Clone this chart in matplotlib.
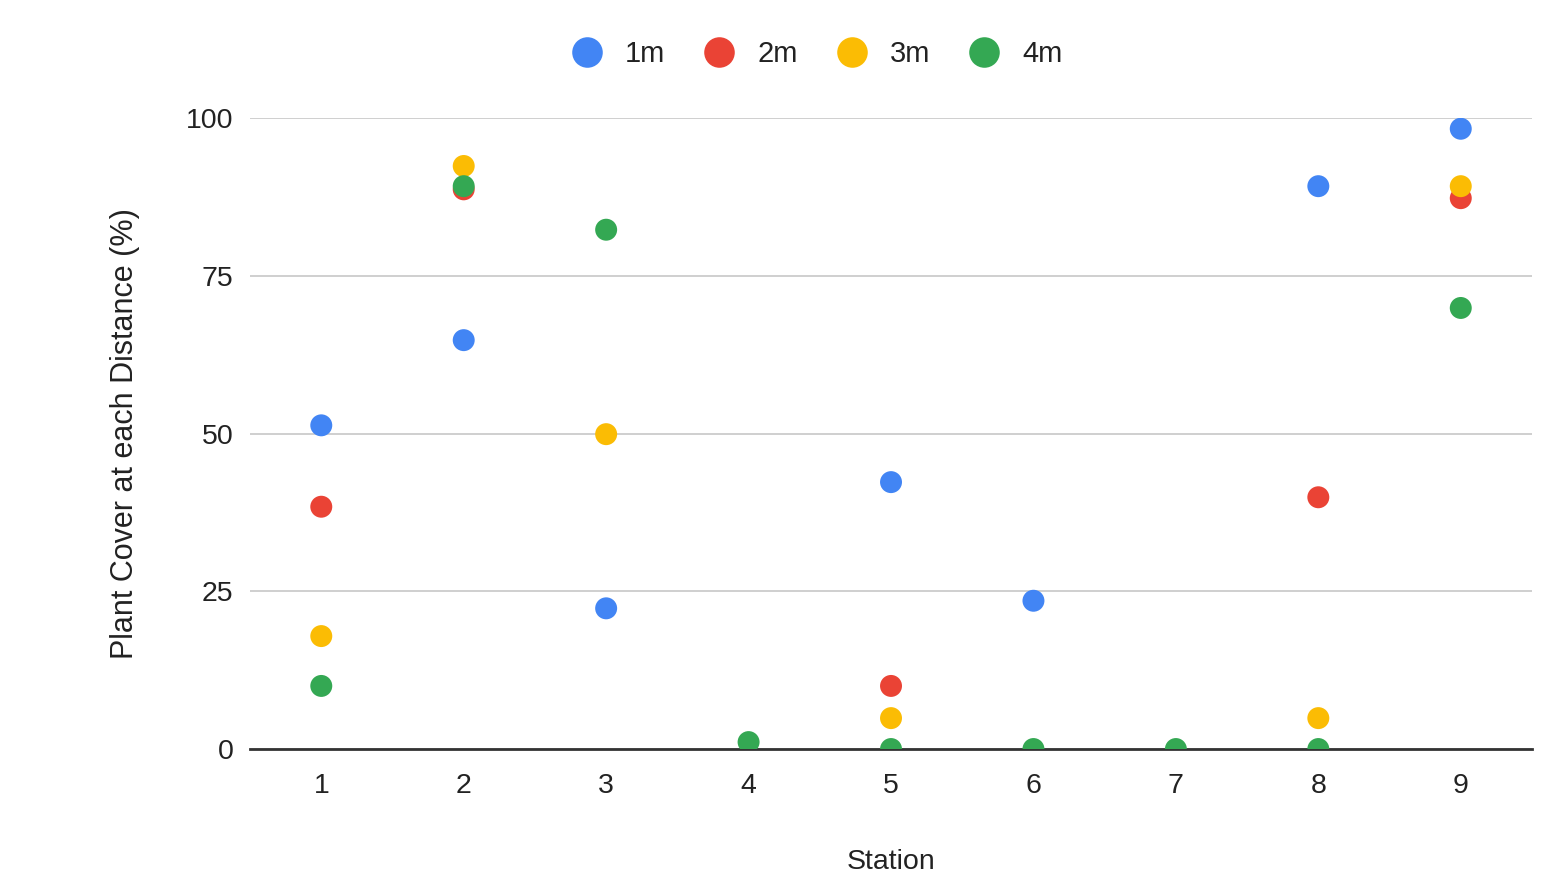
import numpy as np
import matplotlib.pyplot as plt
from matplotlib.lines import Line2D

plt.rcParams['font.family'] = ['Liberation Sans', 'DejaVu Sans']

# data (nan = no point shown)
stations = [1, 2, 3, 4, 5, 6, 7, 8, 9]
series_names = ["1m", "2m", "3m", "4m"]
cover_1m = [51.3, 64.8, 22.3, np.nan, 42.3, 23.5, np.nan, 89.2, 98.3]
cover_2m = [38.4, 88.7, np.nan, np.nan, 10.0, np.nan, np.nan, 39.9, 87.3]
cover_3m = [17.9, 92.4, 49.9, np.nan, 4.9, np.nan, np.nan, 4.9, 89.2]
cover_4m = [10.0, 89.2, 82.3, 1.1, 0.0, 0.0, 0.0, 0.0, 69.9]
colors = ["#4285F4", "#EA4335", "#FBBC04", "#34A853"]

fig = plt.figure(figsize=(15.58, 8.73), dpi=100)
ax = fig.add_axes([0.1605, 0.142, 0.8228, 0.7228])

for vals, col in zip([cover_1m, cover_2m, cover_3m, cover_4m], colors):
    ax.scatter(stations, vals, s=250, color=col, edgecolors="none", zorder=3)

ax.set_xlim(0.5, 9.5)
ax.set_ylim(0, 100)
ax.set_xticks(stations)
ax.set_yticks([0, 25, 50, 75, 100])
ax.tick_params(length=0, labelsize=20.5, colors="#222222")
ax.tick_params(axis="x", pad=17)
ax.tick_params(axis="y", pad=12)
ax.grid(axis="y", color="#cccccc", linewidth=1.3)
for s in ["top", "right", "left"]:
    ax.spines[s].set_visible(False)
ax.spines["bottom"].set_color("#333333")
ax.spines["bottom"].set_linewidth(2)
ax.spines["bottom"].set_zorder(2)

ax.set_xlabel("Station", fontsize=20.5, color="#222222", labelpad=36)
ax.set_ylabel("Plant Cover at each Distance (%)", fontsize=22, color="#222222", labelpad=33)

handles = [Line2D([], [], marker="o", linestyle="none", markersize=22,
                  markerfacecolor=c, markeredgecolor="none") for c in colors]
fig.legend(handles, series_names, loc="center", bbox_to_anchor=(0.520, 0.938),
           ncol=4, frameon=False, fontsize=21, handletextpad=0.3,
           columnspacing=0.86, labelcolor="#222222")

fig.savefig("out.png", dpi=100)
